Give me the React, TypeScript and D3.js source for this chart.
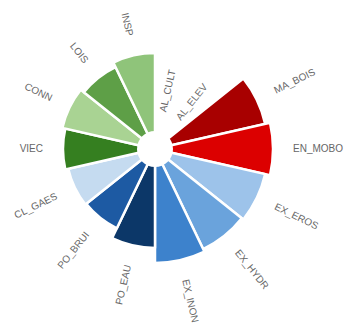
import React from "react";
import * as d3 from "d3";

const categories = ["AL_CULT", "AL_ELEV", "MA_BOIS", "EN_MOBO", "EX_EROS", "EX_HYDR", "EX_INON", "PO_EAU", "PO_BRUI", "CL_GAES", "VIEC", "CONN", "LOIS", "INSP"];
const values = [0, 0, 95, 100, 95, 93, 96, 81, 70, 71, 74, 77, 73, 78];
const colors = ["#8fc46f", "#8fc46f", "#a80000", "#dc0000", "#9dc3ea", "#6aa3dc", "#3d82cc", "#0c3768", "#1d5aa3", "#c5dbf0", "#357f20", "#a9d393", "#5e9f47", "#8fc47a"];

const W = 350;
const H = 331;
const cx = 155;
const cy = 149;
const inner = 18;

export default function App() {
  const angle = d3.scaleBand<string>().domain(categories).range([0, 2 * Math.PI]).padding(0);
  const radius = d3.scaleLinear().domain([0, 100]).range([inner, 118]);
  const arc = d3.arc<any>();

  return (
    <svg width={W} height={H} style={{ position: "absolute", left: 0, top: 0, background: "#fff" }}>
      <g transform={`translate(${cx},${cy})`}>
        {categories.map((c, i) => {
          const a0 = angle(c)!;
          const a1 = a0 + angle.bandwidth();
          const v = values[i];
          if (v <= 0) return null;
          const d = arc({ innerRadius: 0, outerRadius: radius(v), startAngle: a0, endAngle: a1 }) as string;
          return <path key={c} d={d} fill={colors[i]} stroke="#fff" strokeWidth={2.5} strokeLinejoin="round" />;
        })}
        <circle r={inner} fill="#fff" />
        {categories.map((c, i) => {
          const mid = angle(c)! + angle.bandwidth() / 2;
          const deg = (mid * 180) / Math.PI;
          const r = radius(values[i]) + 20;
          const x = Math.sin(mid) * r;
          const y = -Math.cos(mid) * r;
          const flip = deg > 180;
          const rot = flip ? deg + 90 : deg - 90;
          return (
            <text
              key={c}
              transform={`translate(${x},${y}) rotate(${rot})`}
              textAnchor={flip ? "end" : "start"}
              dominantBaseline="middle"
              fontFamily="Liberation Sans, Arial, sans-serif"
              fontSize={10}
              fill="#666"
            >
              {c}
            </text>
          );
        })}
      </g>
    </svg>
  );
}
